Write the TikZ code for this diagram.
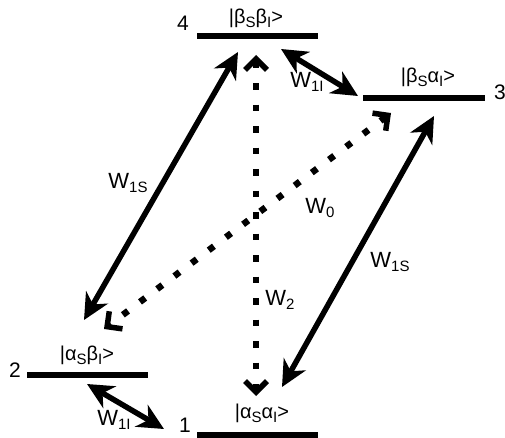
\documentclass[tikz,border=0pt]{standalone}
\usepackage{fontspec}
\setmainfont{Liberation Sans}
\usetikzlibrary{arrows.meta}
\newcommand\sbs[1]{\raisebox{-0.4ex}{\fontsize{15}{16}\selectfont #1}}
\tikzset{
  level/.style={line width=6pt},
  num/.style={font=\fontsize{21}{24}\selectfont, inner sep=0pt},
  state/.style={font=\fontsize{20}{24}\selectfont, inner sep=0pt},
  wlab/.style={font=\fontsize{22}{26}\selectfont, inner sep=0pt},
  solidarrow/.style={line width=5.5pt, {Stealth[length=26pt,width=25pt,inset=8pt]}-{Stealth[length=26pt,width=25pt,inset=8pt]}},
  dotarrow/.style={line width=6.5pt, dash pattern=on 6.5pt off 15pt, {Straight Barb[length=11pt,width=22pt,line width=5.5pt]}-{Straight Barb[length=11pt,width=22pt,line width=5.5pt]}}
}
\begin{document}
\begin{tikzpicture}[x=1pt,y=-1pt]
\useasboundingbox (0,0) rectangle (505,438);
% levels
\draw[level] (197,36) -- (318,36);
\draw[level] (363,98) -- (485,98);
\draw[level] (27,375) -- (148,375);
\draw[level] (197,435) -- (318,435);
% level numbers
\node[num] (n4) at (183,23) {4};
\node[num] (n3) at (500,92) {3};
\node[num] (n2) at (15,370) {2};
\node[num] (n1) at (185,425) {1};
% state labels
\node[state] (s4) at (256,18) {|β\sbs{S}β\sbs{I}>};
\node[state] (s3) at (428,77) {|β\sbs{S}α\sbs{I}>};
\node[state] (s2) at (87,355) {|α\sbs{S}β\sbs{I}>};
\node[state] (s1) at (262,413) {|α\sbs{S}α\sbs{I}>};
% arrow end points
\coordinate (a1) at (238,52);  \coordinate (b1) at (84,320);
\coordinate (a2) at (434,116); \coordinate (b2) at (282,387);
\coordinate (a3) at (281,49);  \coordinate (b3) at (358,96);
\coordinate (a4) at (87,384);  \coordinate (b4) at (164,429);
\coordinate (a5) at (256,55);  \coordinate (b5) at (256,396);
\coordinate (a6) at (391,113); \coordinate (b6) at (104,329);
\draw[solidarrow] (a1) -- (b1);
\draw[solidarrow] (a2) -- (b2);
\draw[solidarrow] (a3) -- (b3);
\draw[solidarrow] (a4) -- (b4);
\draw[dotarrow] (a5) -- (b5);
\draw[dotarrow] (a6) -- (b6);
% rate labels
\node[wlab] (w1) at (128,183) {W\sbs{1S}};
\node[wlab] (w2) at (390,262) {W\sbs{1S}};
\node[wlab] (w3) at (307,82) {W\sbs{1I}};
\node[wlab] (w4) at (114,420) {W\sbs{1I}};
\node[wlab] (w5) at (280,300) {W\sbs{2}};
\node[wlab] (w6) at (320,208) {W\sbs{0}};
\end{tikzpicture}
\end{document}
